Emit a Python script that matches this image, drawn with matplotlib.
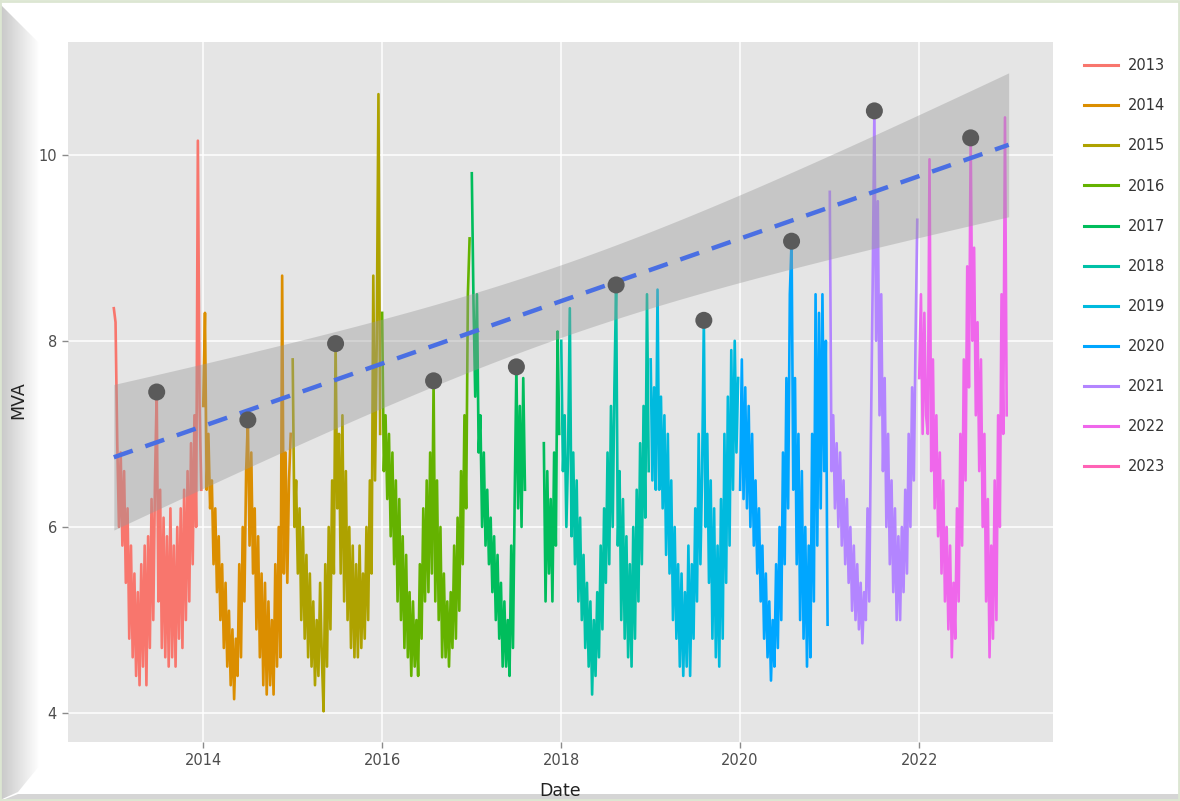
import numpy as np
import pandas as pd
import matplotlib
matplotlib.use('Agg')
import matplotlib.pyplot as plt
import matplotlib.dates as mdates
from matplotlib.lines import Line2D

# ================= data (~weekly) =================
YEARS = [2013, 2014, 2015, 2016, 2017, 2018, 2019, 2020, 2021, 2022, 2023]
COLORS = ['#F8766D', '#DB8E00', '#AEA200', '#64B200', '#00BD5C', '#00C1A7',
          '#00BADE', '#00A6FF', '#B385FF', '#EF67EB', '#FF63B6']

mva_2013 = [8.35, 8.2, 6.9, 6.0, 6.8, 5.8, 6.6, 5.4, 6.2, 4.8, 5.8, 4.6, 5.5,
            4.4, 5.3, 4.3, 5.6, 4.5, 5.8, 4.3, 5.9, 4.7, 6.3, 5.0, 6.5, 7.45,
            5.2, 6.4, 4.7, 6.1, 4.6, 5.9, 4.5, 6.2, 4.6, 5.8, 4.5, 6.0, 4.8,
            6.2, 4.7, 6.4, 5.0, 6.6, 5.2, 6.9, 5.6, 7.2, 6.0, 10.15, 7.3, 6.4]
mva_2014 = [7.3, 8.3, 6.4, 7.0, 6.2, 6.5, 5.6, 6.2, 5.3, 5.9, 5.0, 5.6, 4.7,
            5.4, 4.5, 5.1, 4.3, 4.9, 4.15, 4.8, 4.4, 5.6, 4.6, 6.0, 5.2, 6.6,
            7.15, 5.8, 6.8, 5.5, 6.2, 4.9, 5.9, 4.6, 5.5, 4.3, 5.4, 4.2, 5.2,
            4.3, 5.0, 4.2, 5.6, 4.5, 6.0, 4.6, 8.7, 5.5, 6.8, 5.4, 6.5, 7.0]
mva_2015 = [7.8, 6.0, 6.5, 5.5, 6.2, 5.0, 6.0, 4.8, 5.7, 4.6, 5.5, 4.5, 5.2,
            4.3, 5.0, 4.4, 5.4, 4.6, 4.02, 5.6, 4.5, 6.0, 4.9, 6.5, 5.5, 7.97,
            6.2, 7.0, 5.5, 7.2, 5.2, 6.6, 5.0, 6.0, 4.7, 5.8, 4.6, 5.6, 4.6,
            5.8, 4.7, 5.5, 4.8, 6.0, 5.0, 6.5, 5.5, 8.7, 6.5, 8.0, 10.65, 7.0]
mva_2016 = [8.3, 6.6, 7.2, 6.3, 7.0, 5.9, 6.8, 5.6, 6.5, 5.2, 6.3, 5.0, 5.9,
            4.7, 5.7, 4.6, 5.3, 4.4, 5.2, 4.5, 5.0, 4.4, 5.6, 4.8, 6.2, 5.2,
            6.5, 5.3, 6.8, 5.5, 7.57, 5.2, 6.5, 5.0, 6.0, 4.6, 5.5, 4.6, 5.2,
            4.5, 5.3, 4.7, 5.8, 4.8, 6.1, 5.1, 6.6, 5.6, 7.2, 6.2, 8.5, 9.1]
mva_2017 = [9.8, 8.4, 7.4, 8.5, 6.8, 7.2, 6.0, 6.8, 5.8, 6.4, 5.6, 6.1, 5.3,
            5.9, 5.0, 5.7, 4.8, 5.4, 4.5, 5.2, 4.5, 5.0, 4.4, 5.8, 4.7, 6.3,
            7.72, 6.2, 7.3, 6.0, 7.6, 6.4, np.nan, np.nan, np.nan, np.nan,
            np.nan, np.nan, np.nan, np.nan, np.nan, np.nan, 6.9, 5.2, 6.6,
            5.5, 6.3, 5.2, 6.8, 5.8, 8.1, 7.0]
mva_2018 = [8.0, 6.6, 7.2, 6.0, 6.8, 8.35, 5.9, 6.8, 5.6, 6.5, 5.2, 6.1, 5.0,
            5.7, 4.7, 5.4, 4.5, 5.2, 4.2, 5.0, 4.4, 5.3, 4.6, 5.8, 4.9, 6.2,
            5.4, 6.8, 5.6, 7.3, 6.0, 7.5, 8.6, 5.8, 6.6, 5.0, 6.3, 4.8, 5.9,
            4.6, 5.6, 4.5, 6.0, 4.8, 6.4, 5.2, 6.9, 5.6, 7.3, 6.1, 8.5, 6.6]
mva_2019 = [7.8, 6.5, 7.5, 6.4, 8.55, 6.4, 7.4, 6.2, 7.2, 5.7, 7.0, 5.5, 6.5,
            5.0, 6.0, 4.8, 5.6, 4.5, 5.5, 4.4, 5.3, 4.5, 5.8, 4.4, 5.6, 4.8,
            6.2, 5.2, 7.0, 5.6, 6.6, 8.22, 6.0, 7.0, 5.4, 6.5, 4.8, 6.2, 4.6,
            5.8, 4.5, 6.3, 4.8, 7.0, 5.4, 7.4, 5.8, 7.9, 6.4, 8.0, 6.8, 7.6]
mva_2020 = [6.4, 7.8, 6.3, 7.5, 6.2, 7.3, 6.0, 7.0, 5.8, 6.5, 5.5, 6.2, 5.2,
            5.8, 4.8, 5.5, 4.6, 5.2, 4.35, 5.0, 4.5, 5.6, 4.7, 6.0, 5.0, 6.8,
            5.6, 7.6, 6.2, 8.5, 9.07, 6.4, 7.6, 5.6, 7.0, 5.0, 6.6, 4.8, 6.0,
            4.5, 5.8, 4.6, 7.0, 5.2, 8.5, 5.8, 8.3, 6.2, 8.5, 6.6, 8.0, 4.95]
mva_2021 = [9.6, 6.6, 7.2, 6.2, 6.9, 6.0, 6.8, 5.8, 6.5, 5.6, 6.3, 5.4, 6.0,
            5.1, 5.8, 5.0, 5.6, 4.9, 5.4, 4.75, 5.3, 5.0, 6.2, 5.2, 7.0, 8.6,
            10.47, 8.0, 9.5, 7.2, 8.5, 6.6, 7.6, 6.0, 7.0, 5.6, 6.5, 5.3, 6.2,
            5.0, 5.9, 5.0, 6.0, 5.3, 6.4, 5.5, 7.0, 6.0, 7.5, 6.5, 8.0, 9.3]
mva_2022 = [7.6, 8.5, 7.0, 8.3, 7.2, 7.0, 9.95, 6.6, 7.8, 6.2, 7.2, 5.9, 6.8,
            5.5, 6.5, 5.2, 6.0, 4.9, 5.8, 4.6, 5.4, 4.8, 6.2, 5.2, 7.0, 5.8,
            7.8, 6.5, 8.8, 7.5, 10.18, 8.0, 9.0, 7.2, 8.2, 6.6, 7.8, 6.0, 7.0,
            5.2, 6.3, 4.6, 5.8, 4.8, 6.5, 5.0, 7.2, 6.0, 8.5, 7.0, 10.4, 7.2]
mva_2023 = [7.1]

# summer peaks per year (the dark dots), the trend is fitted on these
peak_dates = ['2013-06-25', '2014-07-02', '2015-06-25', '2016-07-29', '2017-07-02',
              '2018-08-13', '2019-08-06', '2020-07-29', '2021-07-02', '2022-07-30']
peak_mva = [7.45, 7.15, 7.97, 7.57, 7.72, 8.6, 8.22, 9.07, 10.47, 10.18]

T_975_DF8 = 2.306  # t quantile for the 95% band (n=10 -> df=8)
# ===========================================================================

series = [mva_2013, mva_2014, mva_2015, mva_2016, mva_2017, mva_2018,
          mva_2019, mva_2020, mva_2021, mva_2022, mva_2023]

frames = []
for yr, vals in zip(YEARS, series):
    d = pd.date_range(f'{yr}-01-01', periods=len(vals), freq='7D')
    frames.append(pd.DataFrame({'Date': d, 'MVA': vals, 'Year': yr}))
df = pd.concat(frames, ignore_index=True)

peaks = pd.DataFrame({'Date': pd.to_datetime(peak_dates), 'MVA': peak_mva})

# ---- linear fit + confidence band (like geom_smooth(method='lm')) ----
px = mdates.date2num(peaks['Date'])
py = peaks['MVA'].values
slope, icpt = np.polyfit(px, py, 1)
resid = py - (slope * px + icpt)
s = np.sqrt(np.sum(resid ** 2) / (len(px) - 2))
sxx = np.sum((px - px.mean()) ** 2)
gx = np.linspace(mdates.date2num(df['Date'].min()), mdates.date2num(df['Date'].max()), 200)
gy = slope * gx + icpt
half = T_975_DF8 * s * np.sqrt(1 / len(px) + (gx - px.mean()) ** 2 / sxx)

plt.rcParams['font.family'] = ['DejaVu Sans']
W, H = 1180, 801
fig = plt.figure(figsize=(W / 100, H / 100), dpi=100)
fig.patch.set_facecolor('white')

# picture frame look (bevel on the left / bottom)
bg = fig.add_axes([0, 0, 1, 1], zorder=-5)
bg.set_xlim(0, W)
bg.set_ylim(H, 0)
bg.axis('off')
grad = np.linspace(0.78, 1.0, 64).reshape(1, -1)
im = bg.imshow(grad, cmap='gray', vmin=0, vmax=1, extent=[0, 40, H, 0], aspect='auto')
clip = plt.Polygon([(0, 4), (40, 44), (40, 765), (18, 792), (0, 800)],
                   transform=bg.transData, closed=True, facecolor='none')
bg.add_patch(clip)
im.set_clip_path(clip)
bg.fill([18, 1180, 1180, 0], [794, 794, 801, 801], color='#D5D5D5', lw=0)
bg.plot([0, W - 1, W - 1, 0, 0], [1, 1, H - 1, H - 1, 1], color='#DCE6D2', lw=2)

ax = fig.add_axes([68 / W, (H - 742) / H, (1053 - 68) / W, 700 / H])
ax.set_facecolor('#E5E5E5')
for sp in ax.spines.values():
    sp.set_visible(False)
ax.grid(True, color='white', linewidth=1.1)
ax.set_axisbelow(True)

handles = []
for yr, col in zip(YEARS, COLORS):
    sub = df[df['Year'] == yr]
    ax.plot(sub['Date'], sub['MVA'], color=col, linewidth=1.9, zorder=2)
    handles.append(Line2D([0], [0], color=col, linewidth=2.2, label=str(yr)))

ax.fill_between(mdates.num2date(gx), gy - half, gy + half, color='#999999',
                alpha=0.4, linewidth=0, zorder=3)
ax.plot(mdates.num2date(gx), gy, color='#4A6FE3', linewidth=3.2,
        dashes=(4.5, 3), zorder=4)
ax.scatter(peaks['Date'], peaks['MVA'], s=150, color='#5A5A5A', zorder=5,
           edgecolors='none')

ax.set_xlim(pd.Timestamp('2012-06-28'), pd.Timestamp('2023-07-01'))
ax.set_ylim(3.69, 11.21)
ax.xaxis.set_major_locator(mdates.YearLocator(2))
ax.xaxis.set_major_formatter(mdates.DateFormatter('%Y'))
ax.set_yticks([4, 6, 8, 10])
ax.tick_params(axis='both', length=4, width=1, color='#8A8A8A',
               labelsize=10.5, labelcolor='#4D4D4D', pad=4)

fig.text(18 / W, 1 - 400 / H, 'MVA', rotation=90, ha='center', va='center',
         fontsize=12.5, color='#222222')
fig.text(560 / W, 1 - 791 / H, 'Date', ha='center', va='center',
         fontsize=12.5, color='#222222')

fig.legend(handles=handles, loc='upper left', bbox_to_anchor=(1077 / W, 1 - 51 / H),
           frameon=False, fontsize=10.5, labelspacing=1.72, handlelength=2.3,
           handletextpad=0.7, borderpad=0, labelcolor='#333333')

fig.savefig('out.png', dpi=100, facecolor=fig.get_facecolor())
print("saved out.png")
